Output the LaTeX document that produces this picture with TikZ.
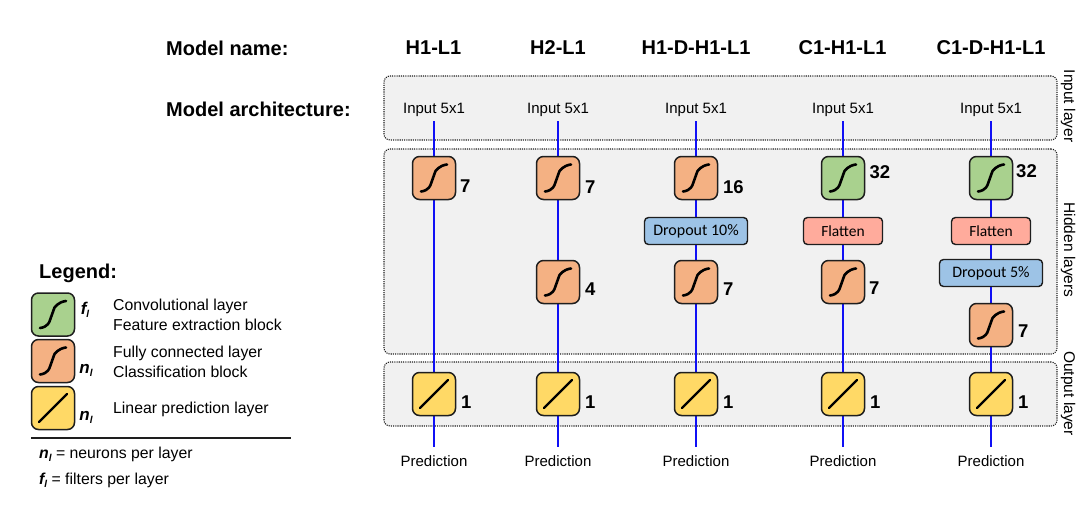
\documentclass[tikz,border=0pt]{standalone}
\usepackage{fontspec}
\setmainfont{Liberation Sans}
\newfontfamily\boxfont{Carlito}
\usetikzlibrary{backgrounds}
\newcommand{\fsz}[1]{\fontsize{#1pt}{#1pt}\selectfont}
\definecolor{panelfill}{HTML}{F1F1F1}
\definecolor{orangefill}{HTML}{F4B183}
\definecolor{greenfill}{HTML}{A9D18E}
\definecolor{yellowfill}{HTML}{FFD966}
\definecolor{flatfill}{HTML}{FFAB9C}
\definecolor{dropfill}{HTML}{9DC3E6}
\definecolor{wire}{HTML}{1010F5}
\definecolor{edge}{HTML}{1E1E1E}
\tikzset{
  panel/.style={draw=edge,fill=panelfill,line width=1.1pt,dash pattern=on 1.1pt off 1.1pt,rounded corners=6pt,inner sep=0pt},
  cell/.style={draw=edge,line width=1.5pt,rounded corners=7pt,minimum width=43pt,minimum height=43pt,inner sep=0pt},
  sshape/.style={path picture={\draw[black,line width=2.6pt,line cap=round]
    ([shift={(-13pt,-13.5pt)}]path picture bounding box.center) .. controls ([shift={(-5pt,-12.5pt)}]path picture bounding box.center) and ([shift={(-3.5pt,-7pt)}]path picture bounding box.center) .. ([shift={(-1pt,0pt)}]path picture bounding box.center)
    .. controls ([shift={(1.5pt,7pt)}]path picture bounding box.center) and ([shift={(5pt,12.5pt)}]path picture bounding box.center) .. ([shift={(13pt,13.5pt)}]path picture bounding box.center);}},
  lshape/.style={path picture={\draw[black,line width=2.4pt,line cap=round]
    ([shift={(-14pt,-14pt)}]path picture bounding box.center) -- ([shift={(14pt,14pt)}]path picture bounding box.center);}},
  fccell/.style={cell,fill=orangefill,sshape},
  convcell/.style={cell,fill=greenfill,sshape},
  lincell/.style={cell,fill=yellowfill,lshape},
  bar/.style={draw=edge,line width=1.4pt,rounded corners=4pt,minimum height=27pt,inner sep=0pt},
  flatbar/.style={bar,fill=flatfill,minimum width=79pt,font=\boxfont\fsz{15.5}},
  dropbar/.style={bar,fill=dropfill,minimum width=103pt,font=\boxfont\fsz{16}},
  inlabel/.style={font=\fsz{15},inner sep=0pt,minimum height=23pt},
  predlabel/.style={font=\fsz{15},inner sep=0pt,minimum height=28pt},
  num/.style={font=\bfseries\fsz{18.5},inner sep=0pt,anchor=west},
  head/.style={font=\bfseries\fsz{20},inner sep=0pt},
  side/.style={font=\fsz{15.5},inner sep=0pt,rotate=-90},
  legtext/.style={font=\fsz{15.8},inner sep=0pt,anchor=west},
  sym/.style={font=\bfseries\itshape\fsz{17},inner sep=0pt},
  conn/.style={draw=wire,line width=1.6pt}
}
\begin{document}
\begin{tikzpicture}[x=1pt,y=-1pt]
\useasboundingbox (0,0) rectangle (1086,514);
% headings
\node[head,anchor=west] (hname) at (166,48) {Model name:};
\node[head,anchor=west] (harch) at (166,109) {Model architecture:};
\node[head] (m1) at (433.5,48) {H1-L1};
\node[head] (m2) at (558,48) {H2-L1};
\node[head] (m3) at (696,48) {H1-D-H1-L1};
\node[head] (m4) at (842.5,48) {C1-H1-L1};
\node[head] (m5) at (991,48) {C1-D-H1-L1};
% side labels
\node[side] (sinput) at (1068,106) {Input layer};
\node[side] (shidden) at (1068,250) {Hidden layers};
\node[side] (soutput) at (1068,393.5) {Output layer};
% inputs
\foreach \n/\x in {1/434,2/558,3/696,4/843,5/991}{
  \node[inlabel] (in\n) at (\x,109.5) {Input 5x1};
  \node[predlabel] (pr\n) at (\x,461) {Prediction};
  \node[lincell] (out\n) at (\x,394) {};
  \node[num] (outn\n) at (\x+27,402) {1};
}
% column 1
\node[fccell] (a1) at (434,178) {};
\node[num] (a1n) at (460,186) {7};
% column 2
\node[fccell] (b1) at (558,178) {};
\node[num] (b1n) at (585,187) {7};
\node[fccell] (b2) at (558,282) {};
\node[num] (b2n) at (585,289) {4};
% column 3
\node[fccell] (c1) at (696,178) {};
\node[num] (c1n) at (723,187) {16};
\node[dropbar] (c2) at (696,231) {Dropout 10\%};
\node[fccell] (c3) at (696,282) {};
\node[num] (c3n) at (723,289) {7};
% column 4
\node[convcell] (d1) at (843,178) {};
\node[num] (d1n) at (869.5,172) {32};
\node[flatbar] (d2) at (843,231) {Flatten};
\node[fccell] (d3) at (843,282) {};
\node[num] (d3n) at (869,288) {7};
% column 5
\node[convcell] (e1) at (991,178) {};
\node[num] (e1n) at (1016,171) {32};
\node[flatbar] (e2) at (991,231) {Flatten};
\node[dropbar] (e3) at (991,273) {Dropout 5\%};
\node[fccell] (e4) at (991,325) {};
\node[num] (e4n) at (1018,331) {7};
% panels and connectors
\begin{scope}[on background layer]
  \node[panel,minimum width=673pt,minimum height=64pt] (pinput) at (720.5,108) {};
  \node[panel,minimum width=673pt,minimum height=205pt] (phidden) at (720.5,251.5) {};
  \node[panel,minimum width=673pt,minimum height=64pt] (poutput) at (720.5,394) {};
  \draw[conn] (in1.south) -- (a1) -- (out1) -- (pr1.north);
  \draw[conn] (in2.south) -- (b1) -- (b2) -- (out2) -- (pr2.north);
  \draw[conn] (in3.south) -- (c1) -- (c2) -- (c3) -- (out3) -- (pr3.north);
  \draw[conn] (in4.south) -- (d1) -- (d2) -- (d3) -- (out4) -- (pr4.north);
  \draw[conn] (in5.south) -- (e1) -- (e2) -- (e3) -- (e4) -- (out5) -- (pr5.north);
\end{scope}
% legend
\node[head,anchor=west] (ltitle) at (39,273) {Legend:};
\node[convcell] (lg) at (53,314.5) {};
\node[fccell] (lo) at (53,361) {};
\node[lincell] (ly) at (53,408) {};
\node[sym] (lgs) at (85,310) {\textit{f}\raisebox{-3pt}{\fsz{10}\textit{l}}};
\node[sym] (los) at (86,370) {\textit{n}\raisebox{-3pt}{\fsz{10}\textit{l}}};
\node[sym] (lys) at (86,417) {\textit{n}\raisebox{-3pt}{\fsz{10}\textit{l}}};
\node[legtext] (t1) at (113,306) {Convolutional layer};
\node[legtext] (t2) at (113,325) {Feature extraction block};
\node[legtext] (t3) at (113,353) {Fully connected layer};
\node[legtext] (t4) at (113,372) {Classification block};
\node[legtext] (t5) at (113,409) {Linear prediction layer};
\coordinate (rl) at (31,438);
\coordinate (rr) at (291,438);
\draw[edge,line width=1.2pt] (rl) -- (rr);
\node[legtext] (d1t) at (39,454) {{\bfseries\itshape n\raisebox{-3pt}{\fsz{10}l}} = neurons per layer};
\node[legtext] (d2t) at (39,480) {{\bfseries\itshape f\raisebox{-3pt}{\fsz{10}l}} = filters per layer};
\end{tikzpicture}
\end{document}
